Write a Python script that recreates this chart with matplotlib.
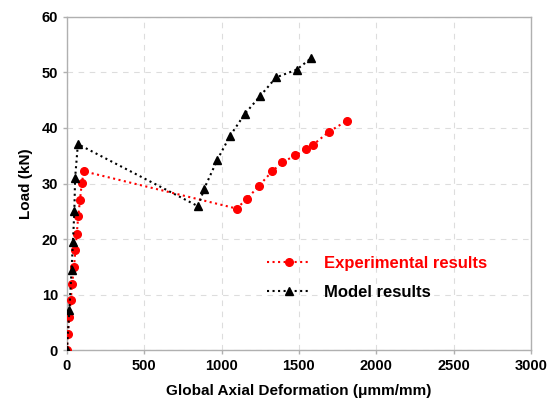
import matplotlib
matplotlib.use("Agg")
import matplotlib.pyplot as plt

# Experimental results (red circles)
exp_x = [0, 5, 16, 25, 34, 46, 55, 64, 73, 85, 96, 110,
         1097, 1166, 1242, 1327, 1393, 1478, 1547, 1593, 1693, 1810]
exp_y = [0, 3.0, 5.9, 9.1, 12.0, 15.0, 18.0, 21.0, 24.1, 27.1, 30.1, 32.2,
         25.5, 27.3, 29.6, 32.2, 33.8, 35.1, 36.2, 37.0, 39.3, 41.3]

# Model results (black triangles)
mod_x = [0, 16, 30, 39, 48, 53, 71, 849, 888, 973, 1055, 1152, 1251, 1352, 1485, 1581]
mod_y = [0, 7.3, 14.4, 19.5, 25.0, 31.0, 37.1, 25.9, 29.1, 34.3, 38.6, 42.6, 45.8, 49.1, 50.5, 52.6]

x_ticks = [0, 500, 1000, 1500, 2000, 2500, 3000]
y_ticks = [0, 10, 20, 30, 40, 50, 60]

plt.rcParams['font.family'] = ['Liberation Sans', 'DejaVu Sans']
plt.rcParams['font.weight'] = 'bold'

fig = plt.figure(figsize=(5.53, 4.12), dpi=100)
ax = fig.add_axes([0.121, 0.150, 0.839, 0.809])

ax.plot(exp_x, exp_y, linestyle=':', color='red', linewidth=1.5,
        marker='o', markersize=5.5, label='Experimental results', zorder=3)
ax.plot(mod_x, mod_y, linestyle=':', color='black', linewidth=1.5,
        marker='^', markersize=6, label='Model results', zorder=4)

ax.set_xlim(0, 3000)
ax.set_ylim(0, 60)
ax.set_xticks(x_ticks)
ax.set_yticks(y_ticks)
ax.grid(True, linestyle=(0, (5, 5)), color='#dddddd', linewidth=0.8)
ax.set_axisbelow(True)

for s in ax.spines.values():
    s.set_color('#b0b0b0')
    s.set_linewidth(1.0)

ax.tick_params(axis='both', labelsize=10.5, length=3, color='#b0b0b0', width=1)
for lbl in ax.get_xticklabels() + ax.get_yticklabels():
    lbl.set_fontweight('bold')

ax.set_xlabel('Global Axial Deformation (\u03bcmm/mm)', fontsize=11, fontweight='bold', labelpad=8)
ax.set_ylabel('Load (kN)', fontsize=11, fontweight='bold', labelpad=6)

leg = ax.legend(loc='center left', bbox_to_anchor=(0.40, 0.216), frameon=False,
                fontsize=12, handlelength=2.6, labelspacing=0.85,
                labelcolor=['red', 'black'])
for t in leg.get_texts():
    t.set_fontweight('bold')

fig.savefig('out.png', dpi=100)
